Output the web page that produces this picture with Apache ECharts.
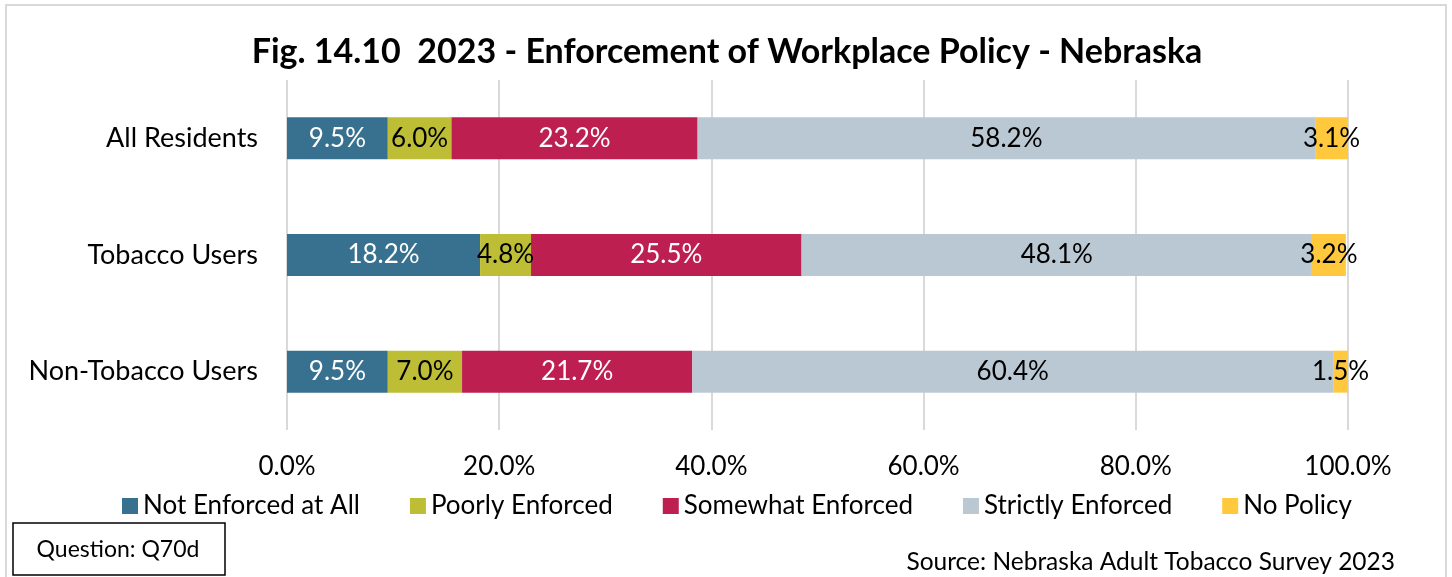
<!DOCTYPE html>
<html>
<head>
<meta charset="utf-8">
<script src="https://cdn.jsdelivr.net/npm/echarts@6/dist/echarts.min.js"></script>
<style>
  html, body { margin: 0; padding: 0; background: #fff; }
  #chart { width: 1452px; height: 577px; }
</style>
</head>
<body>
<div id="chart"></div>
<script>
// Survey groups, top to bottom
const categories = ['All Residents', 'Tobacco Users', 'Non-Tobacco Users'];

// Share of respondents (%) by enforcement level
const notEnforced = [9.5, 18.2, 9.5];
const poorlyEnforced = [6.0, 4.8, 7.0];
const somewhatEnforced = [23.2, 25.5, 21.7];
const strictlyEnforced = [58.2, 48.1, 60.4];
const noPolicy = [3.1, 3.2, 1.5];

const seriesNames = ['Not Enforced at All', 'Poorly Enforced', 'Somewhat Enforced', 'Strictly Enforced', 'No Policy'];
const seriesValues = [notEnforced, poorlyEnforced, somewhatEnforced, strictlyEnforced, noPolicy];
const seriesColors = ['#387190', '#BDBE35', '#BE1F51', '#BAC8D3', '#FFC83D'];
const labelColors = ['#ffffff', '#000000', '#ffffff', '#000000', '#000000'];

const FONT = 'Lato, "Open Sans", sans-serif';

const chart = echarts.init(document.getElementById('chart'), null, { renderer: 'canvas' });

const series = seriesNames.map((name, i) => ({
  name: name,
  type: 'bar',
  stack: 'total',
  barWidth: 42,
  data: seriesValues[i],
  itemStyle: { color: seriesColors[i] },
  label: {
    show: true,
    position: 'inside',
    color: labelColors[i],
    fontFamily: FONT,
    fontSize: 26,
    formatter: p => p.value.toFixed(1) + '%'
  },
  emphasis: { disabled: true }
}));

chart.setOption({
  animation: false,
  textStyle: { fontFamily: FONT },
  title: {
    text: 'Fig. 14.10  2023 - Enforcement of Workplace Policy - Nebraska',
    left: 722,
    textAlign: 'center',
    top: 30,
    textStyle: { fontFamily: FONT, fontSize: 34, fontWeight: 'bold', color: '#000' }
  },
  legend: {
    data: seriesNames,
    left: 117,
    top: 488,
    icon: 'rect',
    itemWidth: 16,
    itemHeight: 16,
    itemGap: 50,
    textStyle: { fontFamily: FONT, fontSize: 26, color: '#000' }
  },
  grid: { left: 287, right: 104, top: 80, height: 350 },
  xAxis: {
    type: 'value',
    min: 0,
    max: 100,
    interval: 20,
    axisLine: { show: false },
    axisTick: { show: false },
    axisLabel: {
      formatter: v => v.toFixed(1) + '%',
      fontFamily: FONT,
      fontSize: 26,
      color: '#000',
      margin: 24
    },
    splitLine: { lineStyle: { color: '#D9D9D9', width: 2 } }
  },
  yAxis: {
    type: 'category',
    data: categories,
    inverse: true,
    axisLine: { show: false },
    axisTick: { show: false },
    axisLabel: { fontFamily: FONT, fontSize: 27, color: '#000', margin: 29 }
  },
  series: series,
  graphic: [
    {
      type: 'rect',
      shape: { x: 6, y: 5, width: 1440, height: 620 },
      style: { fill: 'none', stroke: '#D9D9D9', lineWidth: 2 },
      silent: true
    },
    {
      type: 'rect',
      shape: { x: 13, y: 523, width: 212, height: 52 },
      style: { fill: '#fff', stroke: '#000', lineWidth: 1.5 },
      silent: true
    },
    {
      type: 'text',
      x: 118,
      y: 550,
      style: {
        text: 'Question: Q70d',
        fontFamily: FONT,
        fontSize: 23,
        fill: '#000',
        align: 'center',
        verticalAlign: 'middle'
      },
      silent: true
    },
    {
      type: 'text',
      x: 1395,
      y: 562,
      style: {
        text: 'Source: Nebraska Adult Tobacco Survey 2023',
        fontFamily: FONT,
        fontSize: 24.5,
        fill: '#000',
        align: 'right',
        verticalAlign: 'middle'
      },
      silent: true
    }
  ]
});
</script>
</body>
</html>
